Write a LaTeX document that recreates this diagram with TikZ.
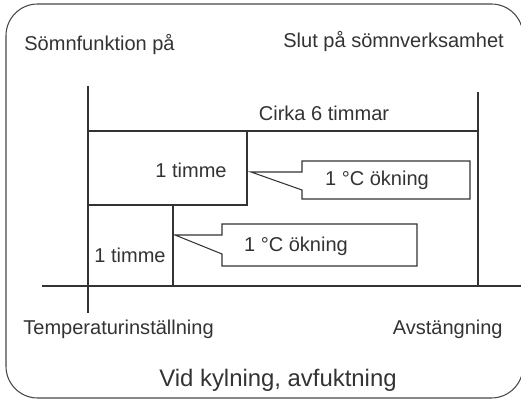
\documentclass[tikz,border=0pt]{standalone}
\usepackage{fontspec}
\setmainfont{Liberation Sans}
\usepackage{tikz}
\usetikzlibrary{positioning,calc}
\definecolor{inkGray}{RGB}{51,51,51}
\definecolor{frameGray}{RGB}{70,70,70}

\begin{document}
\begin{tikzpicture}[x=0.02cm,y=-0.02cm,
  lbl/.style={font=\fontsize{11.4}{13}\selectfont,text=inkGray,inner sep=0pt},
  title/.style={font=\fontsize{13.6}{16}\selectfont,text=inkGray,inner sep=0pt},
  axis/.style={draw=inkGray,line width=0.6pt},
  level/.style={draw=inkGray,line width=1.6pt,line join=miter},
  bubble/.style={draw=inkGray,line width=0.6pt,line join=miter},
  frame/.style={draw=frameGray,line width=0.6pt,rounded corners=18}
]
  \useasboundingbox (0,0) rectangle (521,401);
  \draw[frame] (6,4) rectangle (523,398);

  % time marks and base line
  \coordinate (onTop)  at (88,86);
  \coordinate (onBot)  at (88,313);
  \coordinate (offTop) at (478,92);
  \coordinate (offBot) at (478,286);
  \coordinate (axL)    at (42,286);
  \coordinate (axR)    at (523,286);
  \draw[axis](onTop)--(onBot);
  \draw[axis](offTop)--(offBot);
  \draw[axis](axL)--(axR);

  % temperature steps
  \coordinate (stepHi) at (247,131);
  \coordinate (stepMd) at (247,205);
  \coordinate (stepLo) at (173,205);
  \coordinate (stepSt) at (173,286);
  \draw[axis](88,131)--(stepHi);
  \draw[axis](88,205)--(stepLo);
  \draw[level](478,131)--(stepHi)--(stepMd)--(stepLo)--(stepSt);

  % callouts
  \coordinate (tipA) at (251,172);
  \coordinate (tipB) at (175,235);
  \draw[bubble](302,172)--(302,161)--(470,161)--(470,199)--(302,199)--(302,190)--(tipA)--cycle;
  \draw[bubble](222,235)--(222,224)--(417,224)--(417,266)--(222,266)--(222,254)--(tipB)--cycle;

  \node[lbl,anchor=base west](start)   at (24,51)  {Sömnfunktion på};
  \node[lbl,anchor=base west](stop)    at (283,48) {Slut på sömnverksamhet};
  \node[lbl,anchor=base](dur)          at (324,121){Cirka 6 timmar};
  \node[lbl,anchor=base](hourA)        at (191,178){1 timme};
  \node[lbl,anchor=base](hourB)        at (130,263){1 timme};
  \node[lbl,anchor=base](riseA)        at (377,186){1 °C ökning};
  \node[lbl,anchor=base](riseB)        at (296,252){1 °C ökning};
  \node[lbl,anchor=base west](setTemp) at (23,335) {Temperaturinställning};
  \node[lbl,anchor=base east](off)     at (503,335){Avstängning};
  \node[title,anchor=base](mode)       at (278,387){Vid kylning, avfuktning};
\end{tikzpicture}
\end{document}
